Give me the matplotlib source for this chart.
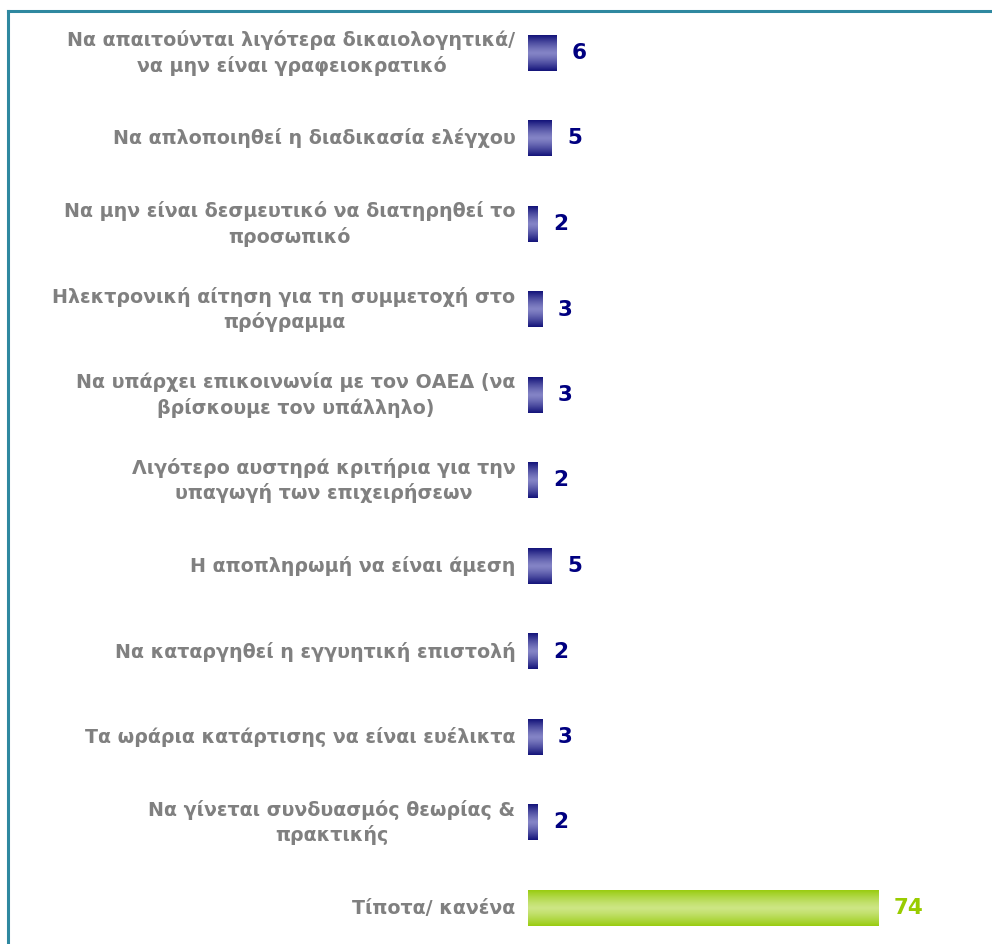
import numpy as np
import matplotlib.pyplot as plt
from matplotlib.lines import Line2D

labels = [
    "Να απαιτούνται λιγότερα δικαιολογητικά/\nνα μην είναι γραφειοκρατικό",
    "Να απλοποιηθεί η διαδικασία ελέγχου",
    "Να μην είναι δεσμευτικό να διατηρηθεί το\nπροσωπικό",
    "Ηλεκτρονική αίτηση για τη συμμετοχή στο\nπρόγραμμα",
    "Να υπάρχει επικοινωνία με τον ΟΑΕΔ (να\nβρίσκουμε τον υπάλληλο)",
    "Λιγότερο αυστηρά κριτήρια για την\nυπαγωγή των επιχειρήσεων",
    "Η αποπληρωμή να είναι άμεση",
    "Να καταργηθεί η εγγυητική επιστολή",
    "Τα ωράρια κατάρτισης να είναι ευέλικτα",
    "Να γίνεται συνδυασμός θεωρίας &\nπρακτικής",
    "Τίποτα/ κανένα",
]
values = [6, 5, 2, 3, 3, 2, 5, 2, 3, 2, 74]
highlight = [False] * 10 + [True]

W, H = 992, 944
fig = plt.figure(figsize=(W / 100, H / 100), dpi=100)

# axes: x=0 at px 528, ~4.74 px per unit; rows 85.5 px apart, first at px 53
x0_px, px_per_unit = 528, 4.74
row0_px, row_px = 53, 85.5
ax = fig.add_axes([x0_px / W, 0, 1 - x0_px / W, 1])
ax.axis("off")

def gradient(edge, mid):
    e = np.array(plt.matplotlib.colors.to_rgb(edge))
    m = np.array(plt.matplotlib.colors.to_rgb(mid))
    t = np.linspace(-1, 1, 64)
    w = np.abs(t)[:, None] ** 1.3
    return (m * (1 - w) + e * w)[:, None, :]

blue_grad = gradient("#14147a", "#8484c6")
green_grad = gradient("#99cc11", "#cde684")
bar_h = 0.41

for i, (lab, v, hl) in enumerate(zip(labels, values, highlight)):
    img = green_grad if hl else blue_grad
    ax.imshow(img, extent=(0, v, i + bar_h / 2, i - bar_h / 2),
              aspect="auto", interpolation="bilinear", zorder=2)
    ax.annotate(str(v), (v, i), xytext=(11, 0), textcoords="offset points",
                ha="left", va="center", fontsize=15.5, fontweight="bold",
                color="#99cc00" if hl else "#000080")
    ax.annotate(lab, (0, i), xytext=(-9, 0), textcoords="offset points",
                ha="right", va="center", ma="center", fontsize=13.7,
                fontweight="bold", color="#808080", linespacing=1.35,
                annotation_clip=False)

ax.set_xlim(0, (W - x0_px) / px_per_unit)
ax.set_ylim((H - row0_px) / row_px, -row0_px / row_px)

# teal frame on top and left
frame = "#2f88a0"
fig.add_artist(Line2D([7.5 / W, 1], [1 - 10.5 / H] * 2, color=frame, lw=2.2))
fig.add_artist(Line2D([7.5 / W] * 2, [0, 1 - 10.5 / H], color=frame, lw=2.2))

fig.savefig("out.png", dpi=100, facecolor="white")
